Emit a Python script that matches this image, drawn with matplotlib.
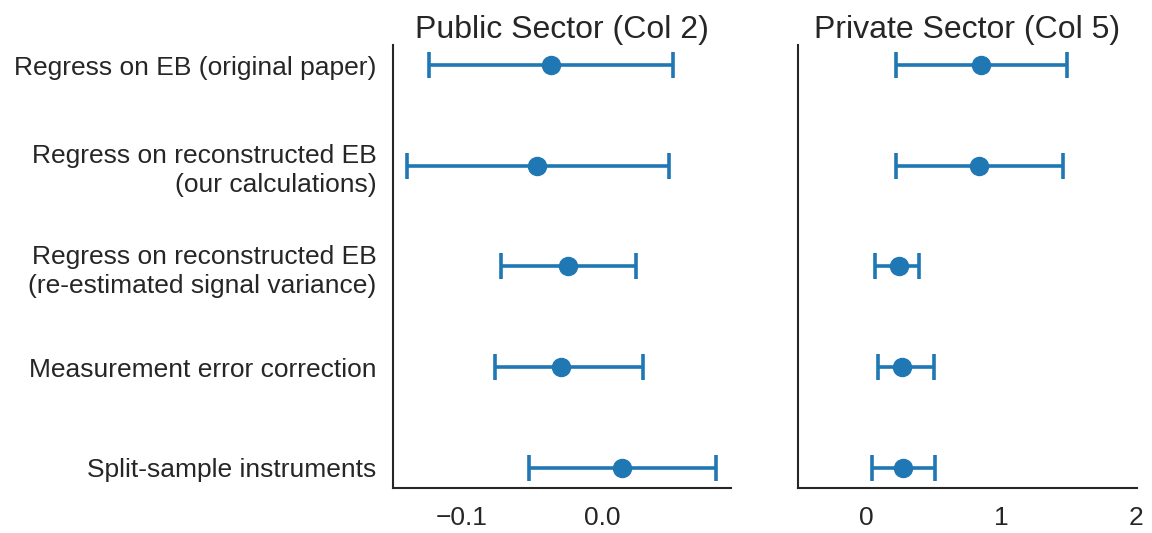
import numpy as np
import matplotlib.pyplot as plt
import seaborn as sns

sns.set_style("white")
plt.rcParams['font.family'] = ['Liberation Sans', 'DejaVu Sans']

LABELS = [
    "Regress on EB (original paper)",
    "Regress on reconstructed EB\n(our calculations)",
    "Regress on reconstructed EB\n(re-estimated signal variance)",
    "Measurement error correction",
    "Split-sample instruments",
]

# Public sector (Col 2)
PUB_EST = [-0.036, -0.046, -0.024, -0.029, 0.014]
PUB_LO  = [-0.123, -0.139, -0.072, -0.076, -0.052]
PUB_HI  = [0.051, 0.048, 0.024, 0.029, 0.081]

# Private sector (Col 5)
PRI_EST = [0.855, 0.84, 0.245, 0.268, 0.275]
PRI_LO  = [0.223, 0.223, 0.067, 0.089, 0.045]
PRI_HI  = [1.487, 1.457, 0.394, 0.506, 0.513]

COLOR = "#1f77b4"


def draw_panel(ax, est, lo, hi, title, xlim, xticks, xticklabels):
    est = np.array(est)
    err = np.vstack([est - np.array(lo), np.array(hi) - est])
    y = np.arange(len(est))
    ax.errorbar(est, y, xerr=err, fmt="o", color=COLOR, ecolor=COLOR,
                markersize=13, elinewidth=2.6, capsize=9.5, capthick=2.6)
    ax.set_ylim(4.2, -0.2)
    ax.set_xlim(*xlim)
    ax.set_xticks(xticks)
    ax.set_xticklabels(xticklabels, fontsize=19)
    ax.set_title(title, fontsize=23, color="#262626", pad=5)
    ax.tick_params(length=0, pad=13, colors="#262626")
    for s in ["top", "right"]:
        ax.spines[s].set_visible(False)
    for s in ["left", "bottom"]:
        ax.spines[s].set_color("#262626")
        ax.spines[s].set_linewidth(1.5)
    return y


fig = plt.figure(figsize=(11.52, 5.33), dpi=100)
ax1 = fig.add_axes([0.3411, 0.0844, 0.2934, 0.8312])
ax2 = fig.add_axes([0.6927, 0.0844, 0.2943, 0.8312])

y = draw_panel(ax1, PUB_EST, PUB_LO, PUB_HI, "Public Sector (Col 2)",
               (-0.149, 0.092), [-0.1, 0.0], ["\u22120.1", "0.0"])
ax1.set_yticks(y)
ax1.set_yticklabels(LABELS, fontsize=19, color="#262626", linespacing=1.25)
ax1.tick_params(axis="y", pad=12)

draw_panel(ax2, PRI_EST, PRI_LO, PRI_HI, "Private Sector (Col 5)",
           (-0.506, 2.01), [0, 1, 2], ["0", "1", "2"])
ax2.set_yticks([])

fig.savefig("out.png", dpi=100)
